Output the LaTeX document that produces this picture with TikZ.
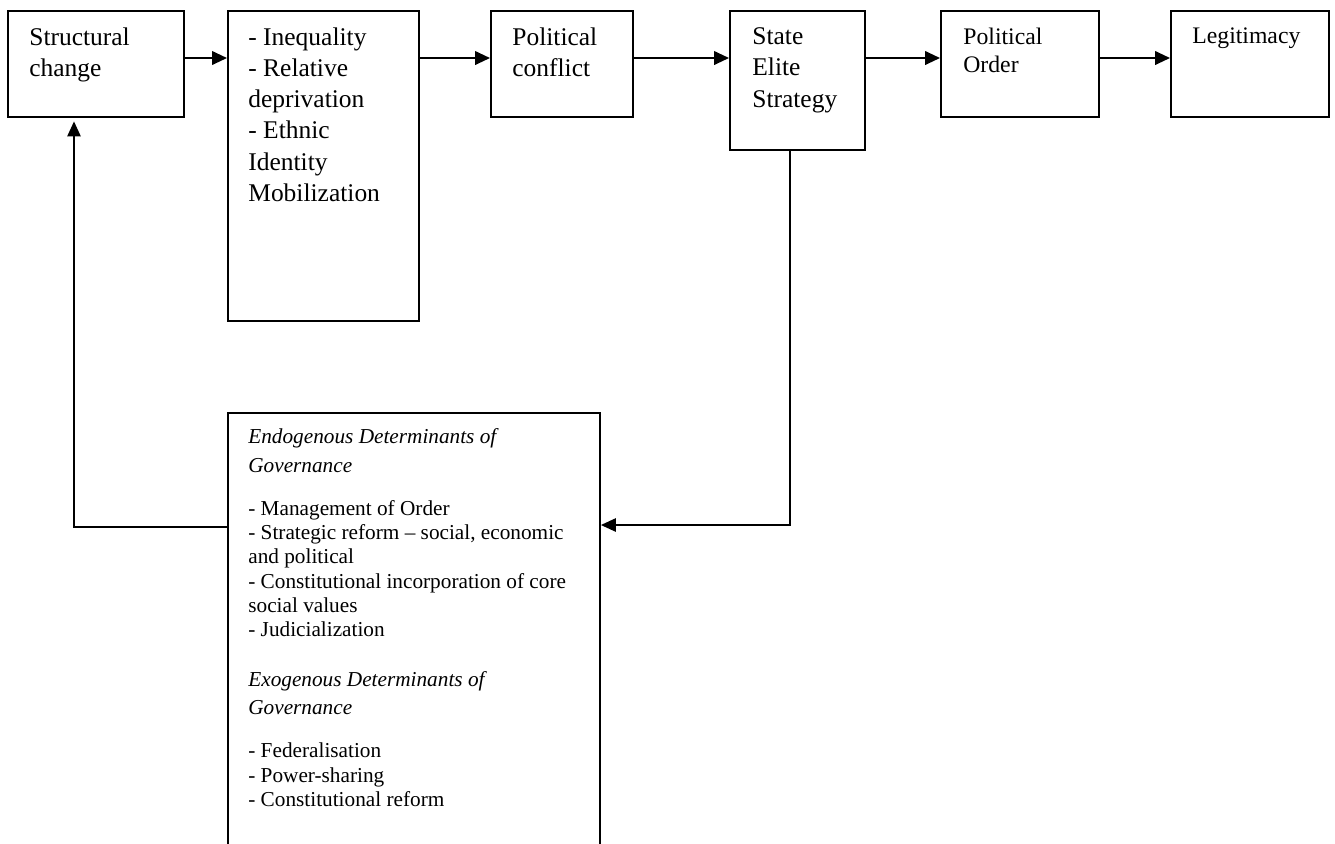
\documentclass[tikz,border=0pt]{standalone}
\usepackage{fontspec}
\setmainfont{Liberation Serif}
\usetikzlibrary{arrows.meta,fit}

\begin{document}
\begin{tikzpicture}[
    x=0.02cm, y=-0.02cm,
    box/.style={draw, line width=1pt, inner sep=0pt},
    boxtext/.style={anchor=north west, align=left, inner sep=0pt, font=\fontsize{14.5}{17.7}\selectfont},
    smalltext/.style={boxtext, font=\fontsize{13.5}{15.9}\selectfont},
    listtext/.style={boxtext, font=\fontsize{12.1}{13.8}\selectfont},
    flow/.style={line width=1.6pt, -{Triangle[length=8.5pt,width=7.5pt]}},
    back/.style={line width=1.1pt, -{Triangle[length=8.5pt,width=7.5pt]}}]

    \useasboundingbox (0,0) rectangle (1335,843);

    % the chain of boxes along the top
    \node[box, fit={(8,11) (184,117)}]    (struct)   {};
    \node[box, fit={(228,11) (419,321)}]  (ineq)     {};
    \node[box, fit={(491,11) (633,117)}]  (conflict) {};
    \node[box, fit={(730,11) (865,150)}]  (elite)    {};
    \node[box, fit={(941,11) (1099,117)}] (order)    {};
    \node[box, fit={(1171,11) (1329,117)}] (legit)   {};

    \node[boxtext] (struct-t)   at (29,27.6)  {Structural\\change};
    \node[boxtext] (ineq-t)     at (248,27.6) {- Inequality\\- Relative\\deprivation\\- Ethnic\\Identity\\Mobilization};
    \node[boxtext] (conflict-t) at (512,27.6) {Political\\conflict};
    \node[boxtext] (elite-t)    at (752,27.6) {State\\Elite\\Strategy};
    \node[smalltext] (order-t)  at (963,27.8) {Political\\Order};
    \node[smalltext] (legit-t)  at (1192,27.8) {Legitimacy};

    % governance box, cut off by the page edge
    \node[box, fit={(228,413) (600,870)}] (govern) {};
    \node[listtext] (govern-t) at (248,428.5) {%
        \textit{Endogenous Determinants of}\\[2.4pt]
        \textit{Governance}\\[10.7pt]
        - Management of Order\\
        - Strategic reform -- social, economic\\
        and political\\
        - Constitutional incorporation of core\\
        social values\\
        - Judicialization\\[14.6pt]
        \textit{Exogenous Determinants of}\\[2.4pt]
        \textit{Governance}\\[10.7pt]
        - Federalisation\\
        - Power-sharing\\
        - Constitutional reform};

    \coordinate (lvl)  at (0,58);
    \coordinate (turn) at (790,525);
    \coordinate (up)   at (74,527);

    \draw[flow] (struct.east |- lvl)   -- (ineq.west |- lvl);
    \draw[flow] (ineq.east |- lvl)     -- (conflict.west |- lvl);
    \draw[flow] (conflict.east |- lvl) -- (elite.west |- lvl);
    \draw[flow] (elite.east |- lvl)    -- (order.west |- lvl);
    \draw[flow] (order.east |- lvl)    -- (legit.west |- lvl);

    % feedback
    \draw[back] (elite.south -| turn) -- (turn) -- (govern.east |- turn);
    \draw[back, shorten >=2pt] (govern.west |- up) -- (up) -- (struct.south -| up);

\end{tikzpicture}
\end{document}
